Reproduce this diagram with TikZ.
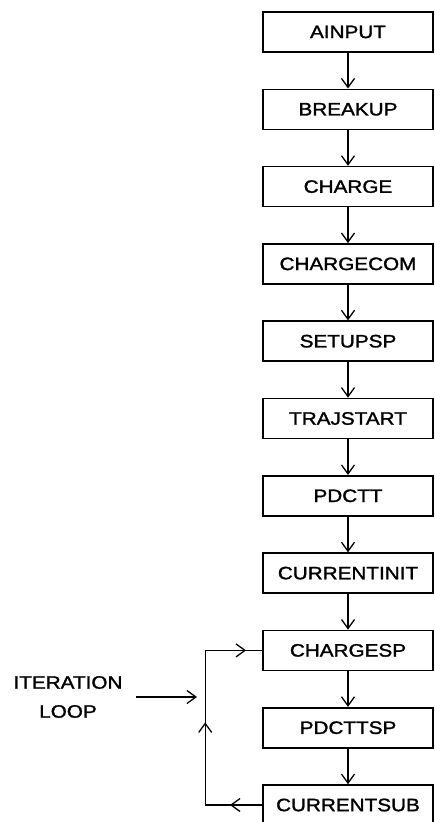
\documentclass[tikz,border=0pt]{standalone}
\usepackage{fontspec}
\setmainfont{Liberation Sans}[FakeStretch=1.15,FakeBold=1.5]
\usetikzlibrary{arrows.meta,positioning,decorations.markings}

\tikzset{
  prog/.style={draw, line width=1.6pt, minimum width=170pt, minimum height=40pt,
    inner sep=0pt, font=\fontsize{18}{22}\selectfont},
  flow/.style={line width=1.3pt, -{Straight Barb[length=9pt,width=13pt]}},
  barb/.tip={Straight Barb[length=9pt,width=13pt]},
  loopline/.style={line width=1.3pt, postaction={decorate},
    decoration={markings,
      mark=at position 0.12 with {\arrow{barb}},
      mark=at position 0.52 with {\arrow{barb}},
      mark=at position 0.94 with {\arrow{barb}}}},
}

\begin{document}
\begin{tikzpicture}[x=1pt,y=-1pt]
  \useasboundingbox (0,0) rectangle (434,822);

  % main chain of routines
  \node[prog] (ainput) at (348,32) {AINPUT};
  \foreach \n/\p/\t in {breakup/ainput/BREAKUP,charge/breakup/CHARGE,
      chargecom/charge/CHARGECOM,setupsp/chargecom/SETUPSP,
      trajstart/setupsp/TRAJSTART,pdctt/trajstart/PDCTT,
      currentinit/pdctt/CURRENTINIT,chargesp/currentinit/CHARGESP,
      pdcttsp/chargesp/PDCTTSP,currentsub/pdcttsp/CURRENTSUB}{
    \node[prog, below=35.7pt of \p] (\n) {\t};
    \draw[flow] (\p) -- (\n);
  }

  % iteration loop back to CHARGESP
  \coordinate (loopbot) at ([xshift=-57pt]currentsub.west);
  \coordinate (looptop) at ([xshift=-57pt]chargesp.west);
  \draw[loopline] (currentsub.west) -- (loopbot) -- (looptop) -- (chargesp.west);

  \node[font=\fontsize{18}{29}\selectfont, align=center] (iter) at (68,697) {ITERATION\\LOOP};
  \coordinate (entry) at (197,697);
  \draw[flow, shorten <=10pt] (iter) -- (entry);
\end{tikzpicture}
\end{document}
